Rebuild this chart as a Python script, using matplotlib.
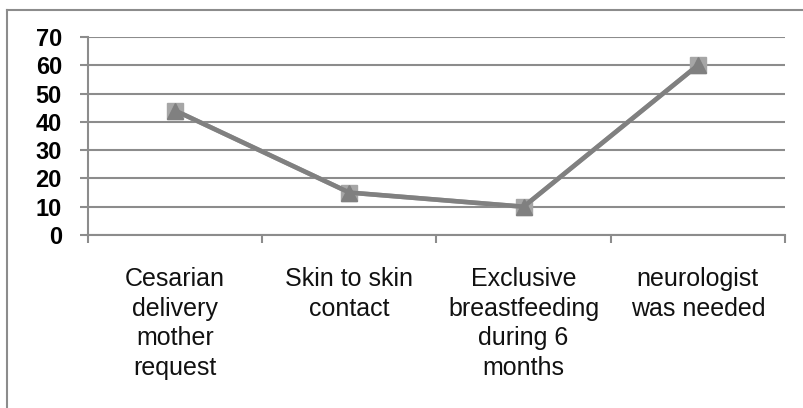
import matplotlib.pyplot as plt
from matplotlib.lines import Line2D

categories = ['Cesarian\ndelivery\nmother\nrequest', 'Skin to skin\ncontact',
              'Exclusive\nbreastfeeding\nduring 6\nmonths', 'neurologist\nwas needed']
series_a = [44, 15, 10, 60]   # square markers
series_b = [44, 15, 10, 60]   # triangle markers + line
yticks = [0, 10, 20, 30, 40, 50, 60, 70]

plt.rcParams['font.family'] = ['Liberation Sans', 'DejaVu Sans']

fig = plt.figure(figsize=(8.04, 4.08), dpi=100)
ax = fig.add_axes([88/804, 173/408, 697/804, 198/408])

x = list(range(1, len(categories) + 1))
ax.plot(x, series_a, color='#a6a6a6', lw=3.3, marker='s', ms=11, zorder=3)
ax.plot(x, series_b, color='#808080', lw=3.3, marker='^', ms=12, zorder=4)

ax.set_xlim(0.5, len(categories) + 0.5)
ax.set_ylim(0, 70)
ax.set_yticks(yticks)
ax.set_yticklabels([str(v) for v in yticks], fontsize=17, fontweight='bold')
ax.grid(axis='y', color='#8c8c8c', lw=1.5, zorder=0)
ax.set_axisbelow(True)

ax.set_xticks(x)
ax.set_xticklabels(categories, fontsize=18, linespacing=1.3, color='#111111')
ax.set_xticks([v + 0.5 for v in range(0, len(categories) + 1)], minor=True)
ax.tick_params(axis='x', which='major', length=0, pad=23)
ax.tick_params(axis='x', which='minor', length=5.5, width=1.5, color='#8c8c8c')
ax.tick_params(axis='y', length=5.8, width=1.5, color='#8c8c8c', pad=13)

for s in ['top', 'right']:
    ax.spines[s].set_visible(False)
for s in ['left', 'bottom']:
    ax.spines[s].set_color('#8c8c8c')
    ax.spines[s].set_linewidth(1.5)

# outer chart frame (cut off on the right and bottom)
fig.add_artist(Line2D([7/804, 1], [1 - 10/408, 1 - 10/408], color='#8c8c8c', lw=1.5))
fig.add_artist(Line2D([7/804, 7/804], [0, 1 - 10/408], color='#8c8c8c', lw=1.5))

fig.savefig('out.png', dpi=100)
